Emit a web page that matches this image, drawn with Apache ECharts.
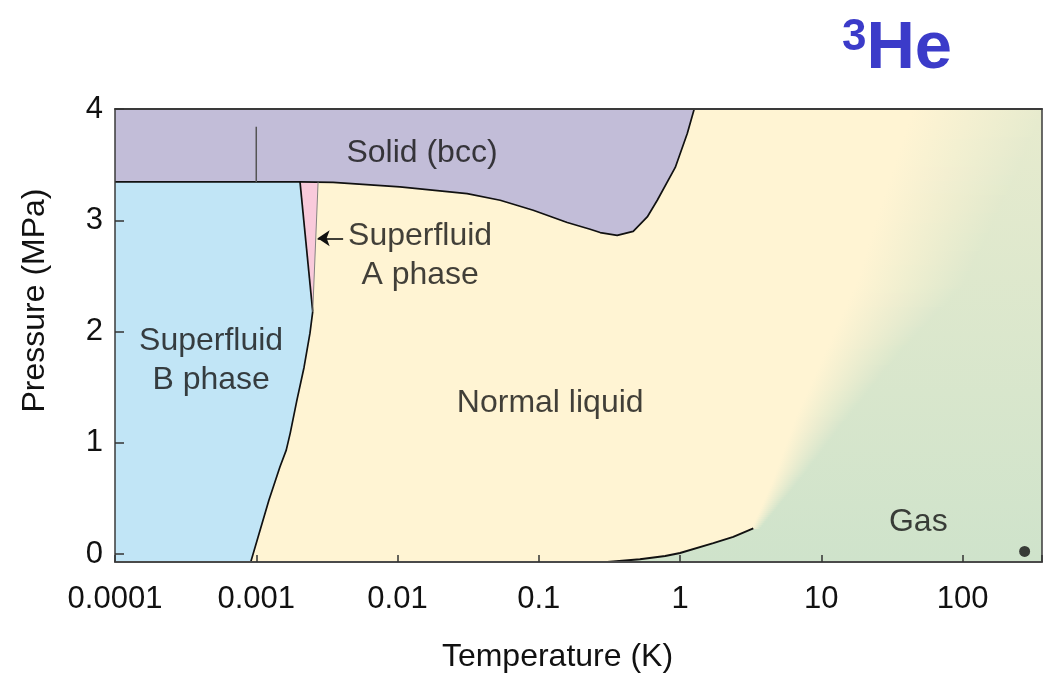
<!DOCTYPE html>
<html><head><meta charset="utf-8">
<script src="https://cdn.jsdelivr.net/npm/echarts@6/dist/echarts.min.js"></script>
<style>html,body{margin:0;padding:0;background:#fff}#c{width:1052px;height:677px}</style>
</head><body><div id="c"></div>
<script>
// ---- data (T in K, P in MPa) ----
const xTickLabels = ['0.0001', '0.001', '0.01', '0.1', '1', '10', '100'];
const yTickValues = [0, 1, 2, 3, 4];
const meltingCurve = [[0.0001,3.345],[0.00204,3.345],[0.0035,3.34],[0.0104,3.30],[0.0311,3.24],[0.0533,3.18],[0.0913,3.09],[0.159,2.98],[0.231,2.92],[0.272,2.89],[0.359,2.865],[0.466,2.90],[0.586,3.03],[0.690,3.18],[0.925,3.475],[1.125,3.78],[1.26,4.0]];
const bccLine = [[0.001,3.345],[0.001,3.84]];
const abLine = [[0.00204,3.345],[0.00251,2.18]];
const anLine = [[0.00274,3.345],[0.00251,2.18]];
const bnLine = [[0.00251,2.18],[0.00240,1.986],[0.00218,1.68],[0.00194,1.384],[0.00174,1.088],[0.00163,0.935],[0.00147,0.783],[0.00123,0.487],[0.00105,0.19],[0.000914,-0.07]];
const lgCurve = [[0.305,-0.07],[0.52,-0.045],[0.785,-0.016],[1.0,0.011],[1.72,0.10],[2.38,0.155],[3.3,0.232]];
const gasEdge = [[3.3,0.232],[4.57,0.64],[6.76,1.23],[11.0,1.83],[18.0,2.43],[28,3.2],[45,4]];
const gasFull = [[3.6,0.232],[6.6,0.64],[15,1.23],[36,1.83],[100,2.43],[195,3.2],[365,4]];
const roomPoint = [[275, 0.025]];
const regionLabels = [
  {text:'Solid (bcc)', at:[0.0149,3.60]},
  {text:'Superfluid\nA phase', at:[0.01445,2.685]},
  {text:'Superfluid\nB phase', at:[0.000479,1.735]},
  {text:'Normal liquid', at:[0.1205,1.357]},
  {text:'Gas', at:[48.6,0.289]}
];
const arrowA = [[0.00412,2.838],[0.00272,2.838]];

const T_MIN = 0.0001, T_MAX = 365, P_MIN = -0.07, P_MAX = 4;
const FONT = "'Liberation Sans', Arial, Helvetica, sans-serif";
const C = {solid:'#C2BDD8', bphase:'#C1E5F6', aphase:'#F9CADB', liquid:[255,244,211], gasTop:[231,235,206], gasBot:[207,227,203]};

const chart = echarts.init(document.getElementById('c'), null, {renderer:'canvas'});
const rgb = a => 'rgb(' + a.map(v => Math.round(v)).join(',') + ')';
const mix = (a, b, t) => a.map((v, i) => v + (b[i] - v) * t);

function polygonSeries(pts, fill) {
  return {
    type:'custom', coordinateSystem:'cartesian2d', clip:true, silent:true,
    data:[pts[0]], encode:{x:0, y:1},
    renderItem:(params, api) => ({
      type:'polygon', shape:{points: pts.map(p => api.coord(p))},
      style:{fill: fill, stroke:'none'}
    })
  };
}
function lineSeries(pts, color, width) {
  return {type:'line', data:pts, showSymbol:false, symbol:'none', silent:true,
    lineStyle:{color:color, width:width}, z:3};
}

const gasPolygon = lgCurve.concat(gasEdge.slice(1)).concat([[T_MAX,P_MAX],[T_MAX,P_MIN]]);
const gasSeries = {
  type:'custom', coordinateSystem:'cartesian2d', clip:true, silent:true,
  data:[gasPolygon[0]], encode:{x:0,y:1},
  renderItem:(params, api) => ({
    type:'polygon', shape:{points: gasPolygon.map(p => api.coord(p))},
    style:{fill: new echarts.graphic.LinearGradient(0,0,0,1,[{offset:0,color:rgb(C.gasTop)},{offset:1,color:rgb(C.gasBot)}]), stroke:'none'}
  })
};
// soft liquid -> gas transition above the critical point
const fadeSeries = {
  type:'custom', coordinateSystem:'cartesian2d', clip:true, silent:true,
  data:[gasEdge[0]], encode:{x:0,y:1},
  renderItem:(params, api) => {
    const E = gasEdge.map(p => api.coord(p));
    const F = gasFull.map(p => api.coord(p));
    const yTop = api.coord([1, P_MAX])[1], yBot = api.coord([1, P_MIN])[1];
    const gasAt = y => mix(C.gasTop, C.gasBot, Math.min(1, Math.max(0, (y - yTop) / (yBot - yTop))));
    const xAt = (poly, y) => {
      for (let i = 0; i < poly.length - 1; i++) {
        const a = poly[i], b = poly[i+1];
        if (y <= a[1] && y >= b[1]) { const t = (y - a[1]) / ((b[1] - a[1]) || 1); return a[0] + (b[0] - a[0]) * t; }
      }
      return y > poly[0][1] ? poly[0][0] : poly[poly.length-1][0];
    };
    const children = [];
    const H = 2;
    for (let y = E[0][1]; y > yTop - H; y -= H) {
      const yc = y - H / 2;
      const x0 = xAt(E, yc) - 1.5, x1 = xAt(F, yc) + 1;
      const g = gasAt(yc);
      children.push({type:'rect', shape:{x:x0, y:y - H - 0.6, width:x1 - x0, height:H + 1.2},
        style:{stroke:'none', fill: new echarts.graphic.LinearGradient(x0, 0, x1, 0, [
          {offset:0, color:rgb(C.liquid)},
          {offset:0.45, color:rgb(mix(C.liquid, g, 0.45))},
          {offset:1, color:rgb(g)}], true)}});
    }
    return {type:'group', children};
  }
};

const solidPolygon = meltingCurve.concat([[T_MIN,P_MAX]]);
const bPolygon = [[T_MIN,P_MIN],[T_MIN,3.345]].concat(abLine).concat(bnLine.slice(1));
const aPolygon = [abLine[0], anLine[0], abLine[1]];

const axisText = {color:'#111', fontSize:31, fontFamily:FONT};

chart.setOption({
  animation:false,
  backgroundColor:'#fff',
  title:{
    text:'{s|3}{h|He}', left:837, top:11,
    textStyle:{rich:{
      s:{fontSize:44, fontWeight:'bold', color:'#3B3BC9', fontFamily:FONT, verticalAlign:'top', lineHeight:44},
      h:{fontSize:67, fontWeight:'bold', color:'#3B3BC9', fontFamily:FONT, lineHeight:67}
    }}
  },
  grid:{left:115, right:10, top:109, bottom:115, show:true, backgroundColor:rgb(C.liquid), borderWidth:0, containLabel:false, outerBoundsMode:'none'},
  xAxis:[{
    type:'log', logBase:10, min:T_MIN, max:T_MAX, position:'bottom', z:5,
    name:'Temperature (K)', nameLocation:'middle', nameGap:79,
    nameTextStyle:{color:'#111', fontSize:32, fontFamily:FONT, padding:[0,42,0,0]},
    axisLine:{show:true, onZero:false, lineStyle:{color:'#4a4a4a', width:2}},
    axisTick:{show:true, inside:true, length:7, lineStyle:{color:'#333', width:1.5}},
    minorTick:{show:false}, splitLine:{show:false},
    axisLabel:Object.assign({margin:22, showMinLabel:true, formatter:v => {
      const l = Math.log10(v), r = Math.round(l);
      if (Math.abs(l - r) > 1e-6) return '';
      return xTickLabels[r + 4] || '';
    }}, axisText)
  },{
    type:'log', logBase:10, min:T_MIN, max:T_MAX, position:'top', z:5,
    axisLine:{show:true, onZero:false, lineStyle:{color:'#3a3a3a', width:2}},
    axisTick:{show:false}, axisLabel:{show:false}, splitLine:{show:false}
  }],
  yAxis:[{
    type:'value', min:P_MIN, max:P_MAX, position:'left', z:5,
    name:'Pressure (MPa)', nameLocation:'middle', nameGap:64, nameRotate:90,
    nameTextStyle:{color:'#111', fontSize:32, fontFamily:FONT, padding:[0,0,0,70]},
    axisLine:{show:true, onZero:false, lineStyle:{color:'#3a3a3a', width:1.5}},
    axisTick:{show:true, inside:true, length:9, customValues:yTickValues, lineStyle:{color:'#333', width:1.5}},
    splitLine:{show:false},
    axisLabel:Object.assign({margin:12, customValues:yTickValues, formatter:v => String(v)}, axisText)
  },{
    type:'value', min:P_MIN, max:P_MAX, position:'right', z:5,
    axisLine:{show:true, onZero:false, lineStyle:{color:'#3a3a3a', width:1.5}},
    axisTick:{show:false}, axisLabel:{show:false}, splitLine:{show:false}
  }],
  series:[
    gasSeries,
    fadeSeries,
    polygonSeries(solidPolygon, C.solid),
    polygonSeries(bPolygon, C.bphase),
    polygonSeries(aPolygon, C.aphase),
    lineSeries(meltingCurve, '#111', 1.7),
    lineSeries(bccLine, '#555', 1.5),
    lineSeries(abLine, '#111', 1.7),
    lineSeries(anLine, '#777', 0.9),
    lineSeries(bnLine, '#111', 1.7),
    Object.assign(lineSeries(lgCurve, '#111', 1.9), {
      markLine:{silent:true, symbol:['none','arrow'], symbolSize:12, label:{show:false},
        lineStyle:{color:'#111', width:1.6, type:'solid'},
        data:[[{coord:arrowA[0]},{coord:arrowA[1]}]]}
    }),
    {type:'scatter', data:roomPoint, symbolSize:11, itemStyle:{color:'#111'}, silent:true, z:4},
    {type:'scatter', silent:true, z:4, symbolSize:1, itemStyle:{color:'rgba(0,0,0,0)'},
      data: regionLabels.map(l => ({value:l.at, label:{show:true, position:'inside', formatter:l.text,
        color:'#111', fontSize:32, fontFamily:FONT, lineHeight:39, align:'center', verticalAlign:'middle'}}))}
  ]
});
</script></body></html>
